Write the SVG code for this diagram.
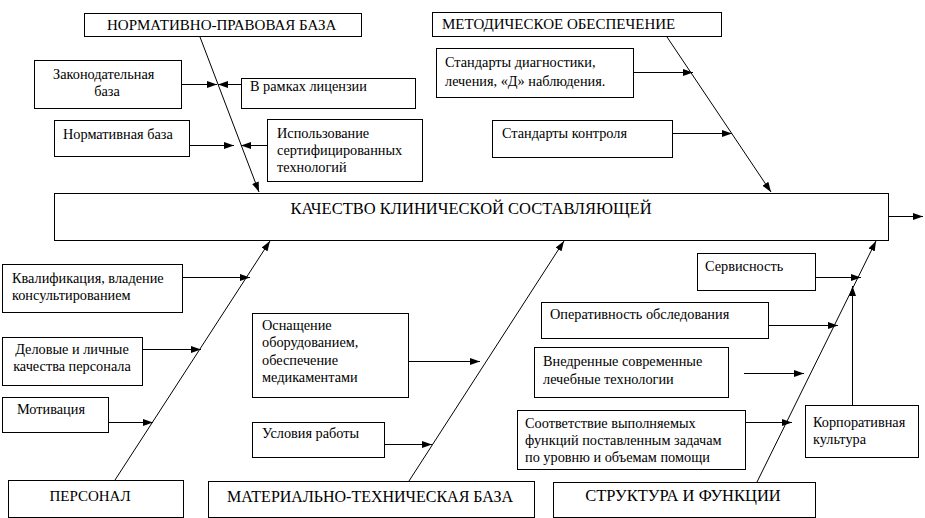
<svg xmlns="http://www.w3.org/2000/svg" width="925" height="518" viewBox="0 0 925 518" font-family="'Liberation Serif', 'DejaVu Serif', serif">
<style>
rect{fill:#fff;stroke:#000;stroke-width:1}
text{font-family:'Liberation Serif','DejaVu Serif','Times New Roman',serif;font-size:14.3px;fill:#000}
.h{font-size:15px}
.b{font-size:16.5px}
.p{font-size:15px}
.m{font-size:16px}
.c line{stroke:#000;stroke-width:1;marker-end:url(#a)}
</style>
<defs>
<marker id="a" markerWidth="10" markerHeight="8" refX="10" refY="4" orient="auto" markerUnits="userSpaceOnUse"><path d="M0,0.5 L10,4 L0,7.5 z" fill="#000"/></marker>
</defs>
<rect width="925" height="518" style="stroke:none"/>

<g id="main"><rect x="54.5" y="193.5" width="834" height="47"/><text x="471" y="214" class="b" text-anchor="middle">КАЧЕСТВО КЛИНИЧЕСКОЙ  СОСТАВЛЯЮЩЕЙ</text></g>

<g id="npb"><rect x="84.5" y="13.5" width="277" height="23"/><text x="107" y="30" class="h">НОРМАТИВНО-ПРАВОВАЯ БАЗА</text></g>
<g id="zak"><rect x="34.5" y="60.5" width="147" height="48"/><text x="53" y="79">Законодательная</text><text x="107" y="96" text-anchor="middle">база</text></g>
<g id="lic"><rect x="241.5" y="78.5" width="174" height="30"/><text x="250" y="91">В рамках лицензии</text></g>
<g id="norm"><rect x="54.5" y="120.5" width="135" height="36"/><text x="63" y="139">Нормативная база</text></g>
<g id="tech"><rect x="267.5" y="119.5" width="155" height="62"/><text x="277" y="138">Использование</text><text x="277" y="155">сертифицированных</text><text x="277" y="172">технологий</text></g>

<g id="met"><rect x="432.5" y="12.5" width="289" height="24"/><text x="442" y="29" class="h">МЕТОДИЧЕСКОЕ ОБЕСПЕЧЕНИЕ</text></g>
<g id="std"><rect x="436.5" y="48.5" width="197" height="49"/><text x="445" y="67">Стандарты диагностики,</text><text x="445" y="86">лечения, «Д» наблюдения.</text></g>
<g id="ctrl"><rect x="492.5" y="120.5" width="180" height="37"/><text x="502" y="138">Стандарты контроля</text></g>

<g id="pers"><rect x="8.5" y="480.5" width="175" height="37"/><text x="90" y="501" class="p" text-anchor="middle">ПЕРСОНАЛ</text></g>
<g id="kval"><rect x="2.5" y="264.5" width="180" height="48"/><text x="12" y="283">Квалификация, владение</text><text x="12" y="300">консультированием</text></g>
<g id="del"><rect x="2.5" y="337.5" width="140" height="48"/><text x="72" y="354" text-anchor="middle">Деловые и личные</text><text x="72" y="371" text-anchor="middle">качества персонала</text></g>
<g id="mot"><rect x="2.5" y="397.5" width="106" height="35"/><text x="17" y="414">Мотивация</text></g>

<g id="mtb"><rect x="208.5" y="481.5" width="326" height="36"/><text x="370" y="502" class="m" text-anchor="middle">МАТЕРИАЛЬНО-ТЕХНИЧЕСКАЯ БАЗА</text></g>
<g id="osn"><rect x="252.5" y="313.5" width="156" height="84"/><text x="262" y="330">Оснащение</text><text x="262" y="347">оборудованием,</text><text x="262" y="365">обеспечение</text><text x="262" y="382">медикаментами</text></g>
<g id="usl"><rect x="252.5" y="422.5" width="132" height="35"/><text x="262" y="438">Условия работы</text></g>

<g id="sf"><rect x="553.5" y="482.5" width="262" height="35"/><text x="683" y="501" class="b" text-anchor="middle">СТРУКТУРА  И  ФУНКЦИИ</text></g>
<g id="serv"><rect x="697.5" y="253.5" width="118" height="37"/><text x="705" y="271">Сервисность</text></g>
<g id="oper"><rect x="541.5" y="302.5" width="227" height="36"/><text x="550" y="319">Оперативность обследования</text></g>
<g id="vnedr"><rect x="534.5" y="347.5" width="194" height="50"/><text x="543" y="366">Внедренные современные</text><text x="543" y="384">лечебные технологии</text></g>
<g id="sootv"><rect x="517.5" y="410.5" width="228" height="59"/><text x="525" y="428">Соответствие выполняемых</text><text x="525" y="445">функций поставленным задачам</text><text x="525" y="462">по уровню и объемам помощи</text></g>
<g id="korp"><rect x="805.5" y="405.5" width="113" height="52"/><text x="813" y="427">Корпоративная</text><text x="813" y="444">культура</text></g>

<g id="connectors" class="c">
<line x1="889" y1="216.5" x2="923" y2="216.5"/>
<line x1="200" y1="37" x2="259" y2="192"/>
<line x1="182" y1="84.5" x2="217" y2="84.5"/>
<line x1="241" y1="84.5" x2="218" y2="84.5"/>
<line x1="190" y1="145.5" x2="234" y2="145.5"/>
<line x1="267" y1="145.5" x2="241" y2="145.5"/>
<line x1="667" y1="37" x2="771" y2="192"/>
<line x1="634" y1="72.5" x2="693" y2="72.5"/>
<line x1="673" y1="133.5" x2="732" y2="133.5"/>
<line x1="115" y1="480" x2="270" y2="241"/>
<line x1="183" y1="277.5" x2="250" y2="277.5"/>
<line x1="143" y1="349.5" x2="201" y2="349.5"/>
<line x1="109" y1="422.5" x2="153" y2="422.5"/>
<line x1="409" y1="481" x2="564" y2="241"/>
<line x1="409" y1="361.5" x2="480" y2="361.5"/>
<line x1="385" y1="444.5" x2="432" y2="444.5"/>
<line x1="757" y1="482" x2="876" y2="241"/>
<line x1="816" y1="277.5" x2="861" y2="277.5"/>
<line x1="769" y1="325.5" x2="838" y2="325.5"/>
<line x1="744" y1="373.5" x2="804" y2="373.5"/>
<line x1="746" y1="422.5" x2="792" y2="422.5"/>
<line x1="852.5" y1="405" x2="852.5" y2="286"/>
</g>
</svg>
